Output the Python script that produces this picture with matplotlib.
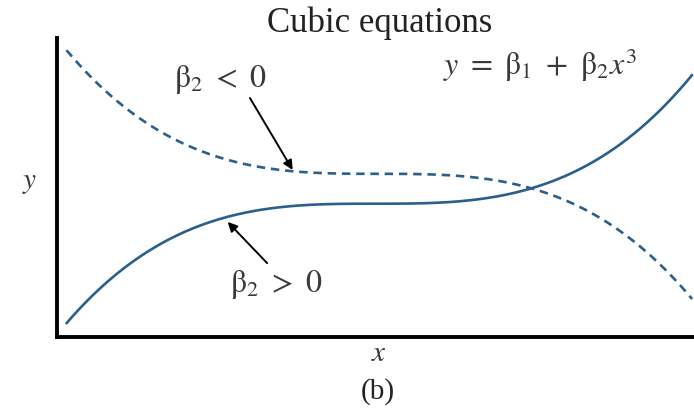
import numpy as np
import matplotlib.pyplot as plt

plt.rcParams['font.family'] = ['Liberation Serif', 'DejaVu Serif']
plt.rcParams['mathtext.fontset'] = 'stix'

# y = b1 + b2 * (x - x0)^3 for the two cases
x_range = [0.15, 9.97]
pos_beta1, pos_beta2, pos_x0 = 4.45, 0.0351, 5.0    # beta2 > 0
neg_beta1, neg_beta2, neg_x0 = 5.45, -0.0352, 5.05  # beta2 < 0

line_color = '#2b5f8c'
text_color = '#3a3a3a'

fig = plt.figure(figsize=(6.94, 4.08), dpi=100)
ax = fig.add_axes([0.082, 0.175, 0.918, 0.732])

x = np.linspace(x_range[0], x_range[1], 300)
y_pos = pos_beta1 + pos_beta2 * (x - pos_x0) ** 3
y_neg = neg_beta1 + neg_beta2 * (x - neg_x0) ** 3

ax.plot(x, y_pos, color=line_color, lw=1.9, solid_capstyle='round')
ax.plot(x, y_neg, color=line_color, lw=1.9, dashes=(3.2, 2.2))

ax.set_xlim(0, 10)
ax.set_ylim(0, 10)
ax.set_xticks([])
ax.set_yticks([])
for side in ['top', 'right']:
    ax.spines[side].set_visible(False)
for side in ['left', 'bottom']:
    ax.spines[side].set_linewidth(2.8)
    ax.spines[side].set_color('black')

arrow = dict(arrowstyle='-|>', color='black', lw=1.4, mutation_scale=14,
             shrinkA=0, shrinkB=0)
ax.annotate('', xy=(3.70, 5.58), xytext=(3.03, 7.99), arrowprops=arrow)
ax.annotate('', xy=(2.68, 3.84), xytext=(3.30, 2.46), arrowprops=arrow)

ax.text(2.57, 8.62, r'$\mathrm{\beta}_2\ <\ 0$', fontsize=23, color=text_color,
        ha='center', va='center')
ax.text(3.44, 1.76, r'$\mathrm{\beta}_2\ >\ 0$', fontsize=23, color=text_color,
        ha='center', va='center')
ax.text(7.58, 9.1, r'$y\ =\ \mathrm{\beta}_1\ +\ \mathrm{\beta}_2 x^3$', fontsize=23,
        color=text_color, ha='center', va='center')

fig.text(380 / 694, 1 - 23 / 408, 'Cubic equations', fontsize=25,
         color='#222222', ha='center', va='center')
fig.text(30 / 694, 1 - 183 / 408, r'$y$', fontsize=21, color=text_color,
         ha='center', va='center')
fig.text(379 / 694, 1 - 354 / 408, r'$x$', fontsize=21, color=text_color,
         ha='center', va='center')
fig.text(378 / 694, 1 - 392 / 408, '(b)', fontsize=21, color='#222222',
         ha='center', va='center')

fig.savefig('out.png', dpi=100)
